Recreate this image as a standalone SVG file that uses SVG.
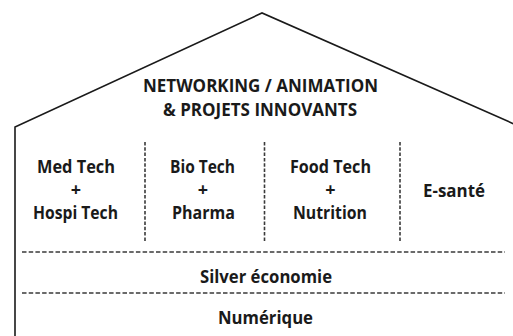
<svg xmlns="http://www.w3.org/2000/svg" width="513" height="336" viewBox="0 0 513 336">
<style>
.t{font-family:"Open Sans",Lato,"Liberation Sans",sans-serif;font-weight:700;font-size:18px;fill:#1a1a1a;text-anchor:middle}
.wall{fill:none;stroke:#1a1a1a;stroke-width:1.6;stroke-linejoin:miter}
.vd{stroke:#3a3a3a;stroke-width:1.6;stroke-dasharray:3.5 1.8;fill:none}
.hd{stroke:#3a3a3a;stroke-width:1.6;stroke-dasharray:4.5 2.2;fill:none}
</style>
<rect width="513" height="336" fill="#fff"/>
<g id="house">
<polyline class="wall" points="15,336 15,127 262,13 514,124"/>
</g>
<g id="connectors">
<line class="vd" x1="145" y1="142" x2="145" y2="241"/>
<line class="vd" x1="264.5" y1="142" x2="264.5" y2="241"/>
<line class="vd" x1="400" y1="142" x2="400" y2="241"/>
<line class="hd" x1="22" y1="252" x2="505" y2="252"/>
<line class="hd" x1="22" y1="293" x2="505" y2="293"/>
</g>
<g id="roof-label">
<text class="t" x="260.5" y="92" textLength="235" lengthAdjust="spacingAndGlyphs">NETWORKING / ANIMATION</text>
<text class="t" x="260" y="116" textLength="194" lengthAdjust="spacingAndGlyphs">&amp; PROJETS INNOVANTS</text>
</g>
<g id="medtech">
<text class="t" x="76" y="173" textLength="78" lengthAdjust="spacingAndGlyphs">Med Tech</text>
<text class="t" x="76" y="196">+</text>
<text class="t" x="75.5" y="219" textLength="85" lengthAdjust="spacingAndGlyphs">Hospi Tech</text>
</g>
<g id="biotech">
<text class="t" x="202.5" y="173" textLength="65" lengthAdjust="spacingAndGlyphs">Bio Tech</text>
<text class="t" x="203" y="196">+</text>
<text class="t" x="203.5" y="219" textLength="63" lengthAdjust="spacingAndGlyphs">Pharma</text>
</g>
<g id="foodtech">
<text class="t" x="330.5" y="173" textLength="81" lengthAdjust="spacingAndGlyphs">Food Tech</text>
<text class="t" x="330.5" y="196">+</text>
<text class="t" x="330" y="219" textLength="74" lengthAdjust="spacingAndGlyphs">Nutrition</text>
</g>
<g id="esante">
<text class="t" x="454" y="197" textLength="62" lengthAdjust="spacingAndGlyphs">E-santé</text>
</g>
<g id="silver">
<text class="t" x="266" y="283" textLength="132" lengthAdjust="spacingAndGlyphs">Silver économie</text>
</g>
<g id="numerique">
<text class="t" x="265.5" y="324" textLength="95" lengthAdjust="spacingAndGlyphs">Numérique</text>
</g>
</svg>
